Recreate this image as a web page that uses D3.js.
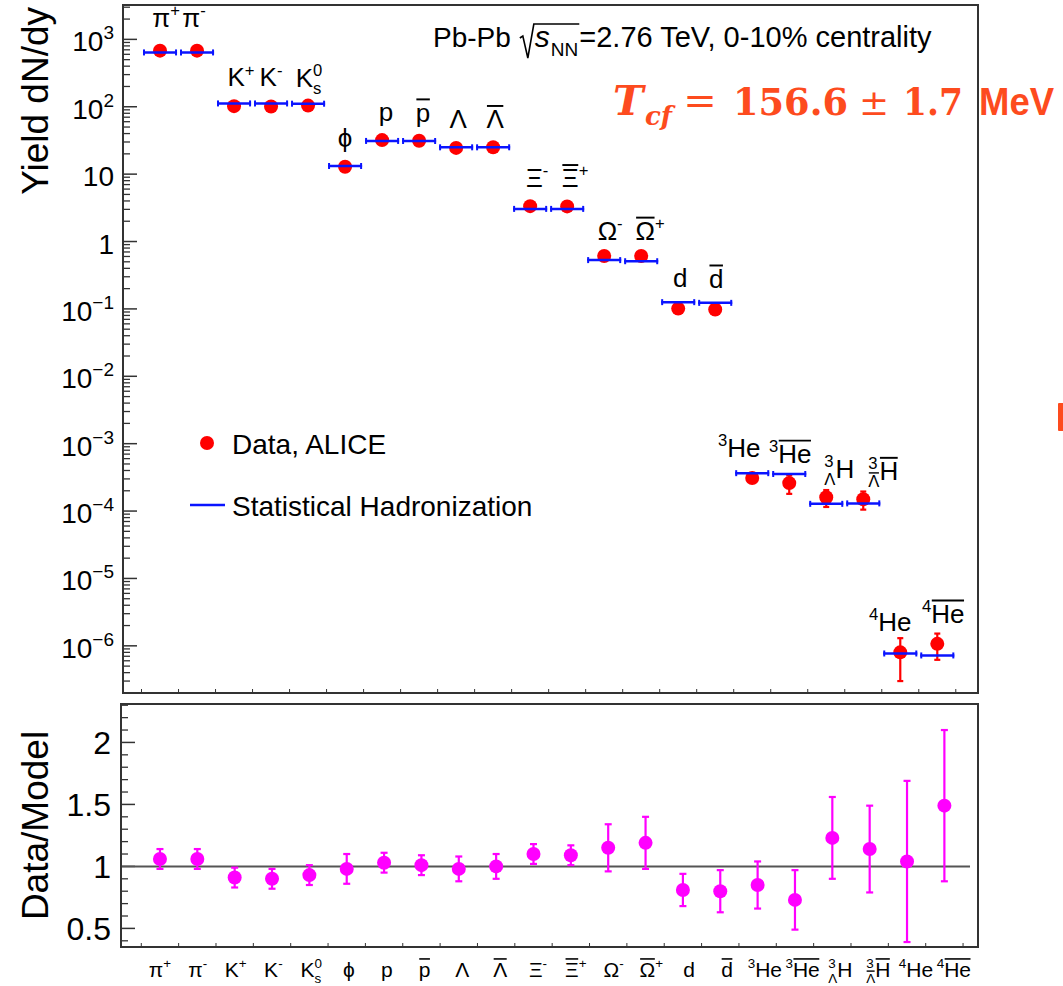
<!DOCTYPE html>
<html>
<head>
<meta charset="utf-8">
<script src="https://cdn.jsdelivr.net/npm/d3@7"></script>
<style>
  body { margin: 0; background: #fff; }
  svg { display: block; }
  text { font-family: "Liberation Sans", Arial, sans-serif; fill: #000; }
</style>
</head>
<body>
<svg id="chart" width="1063" height="986"></svg>
<script>
// particle labels: [text, position ("" | "^" | "_"), flags ("bar", "stack")]
const particleLabels = [
    [["π"], ["+", "^"]],
    [["π"], ["-", "^"]],
    [["K"], ["+", "^"]],
    [["K"], ["-", "^"]],
    [["K"], ["0", "^"], ["s", "_", "stack"]],
    [["ϕ"]],
    [["p"]],
    [["p", "", "bar"]],
    [["Λ"]],
    [["Λ", "", "bar"]],
    [["Ξ"], ["-", "^"]],
    [["Ξ", "", "bar"], ["+", "^"]],
    [["Ω"], ["-", "^"]],
    [["Ω", "", "bar"], ["+", "^"]],
    [["d"]],
    [["d", "", "bar"]],
    [["3", "^"], ["He"]],
    [["3", "^"], ["He", "", "bar"]],
    [["3", "^"], ["Λ", "_", "stack"], ["H"]],
    [["3", "^"], ["Λ", "_", "stack bar"], ["H", "", "bar"]],
    [["4", "^"], ["He"]],
    [["4", "^"], ["He", "", "bar"]]
];

const dataYield = [680, 680, 102, 101, 104, 12.9, 32, 31.3, 24.5, 25, 3.35, 3.32, 0.61, 0.61,
    0.101, 0.098, 3.1e-4, 2.6e-4, 1.6e-4, 1.5e-4, 8.0e-7, 1.07e-6];
const dataErr = [40, 40, 7, 7, 7, 1.4, 2.5, 2.5, 2.5, 2.5, 0.25, 0.25, 0.07, 0.07,
    0.015, 0.015, 0.4e-4, 0.8e-4, 0.45e-4, 0.45e-4, 5.0e-7, 4.5e-7];
const modelYield = [640, 640, 112, 112, 111, 13.2, 31.1, 31, 25, 25, 3.05, 3.05, 0.53, 0.51,
    0.126, 0.123, 3.65e-4, 3.55e-4, 1.28e-4, 1.3e-4, 7.7e-7, 7.2e-7];

const ratio = [1.06, 1.06, 0.91, 0.90, 0.93, 0.98, 1.03, 1.01, 0.98, 1.0, 1.10, 1.09, 1.15, 1.19,
    0.81, 0.80, 0.85, 0.73, 1.23, 1.14, 1.04, 1.49];
const ratioErr = [0.08, 0.08, 0.08, 0.08, 0.08, 0.12, 0.08, 0.08, 0.10, 0.10, 0.08, 0.08, 0.19, 0.21,
    0.13, 0.17, 0.19, 0.24, 0.33, 0.35, 0.65, 0.61];

const topDecades = [-6, -5, -4, -3, -2, -1, 0, 1, 2, 3];
const ratioTicks = [0.5, 1, 1.5, 2];

// hand placement of the labels in the upper pad (pixel nudges, like the original TLatex)
const labelNudge = [[6, -5], [-3, -5], [7, 2], [0, 2], [1, 2], [0, 0], [4, 0], [4, 0], [2, 0], [2, 0],
    [7, 0], [8, 0], [6, 3], [9, 3], [2, 4], [1, 4], [-13, 3], [1, 8], [13, 0], [20, 0], [-10, -2], [6, -2]];

const svg = d3.select("#chart");
const idx = d3.range(particleLabels.length);

const topBox = { left: 123, right: 978, top: 5, bottom: 693 };
const botBox = { left: 121, right: 978, top: 704, bottom: 947 };

const xTop = d3.scaleLinear().domain([-1, 22.1]).range([topBox.left, topBox.right]);
const xBot = d3.scaleLinear().domain([-1.043, 21.9]).range([botBox.left, botBox.right]);
const yTop = d3.scaleLog().domain([Math.pow(10, -6.7), Math.pow(10, 3.51)]).range([topBox.bottom, topBox.top]);
const yBot = d3.scaleLinear().domain([0.35, 2.31]).range([botBox.bottom, botBox.top]);

const frameColor = "#333";

// rich text with sup/sub/overline, centred at cx
function richText(parent, segs, size, cx, baseline) {
    const g = parent.append("g");
    let x = 0, lastStart = 0;
    segs.forEach(([t, pos = "", flags = ""]) => {
        const fs = pos ? size * 0.64 : size;
        const dy = pos === "^" ? -size * 0.42 : pos === "_" ? size * 0.27 : 0;
        const stack = flags.includes("stack");
        const x0 = stack ? lastStart : x;
        const node = g.append("text").attr("x", x0).attr("y", dy).attr("font-size", fs).text(t);
        const w = node.node().getComputedTextLength();
        if (flags.includes("bar")) {
            const yb = dy - fs * 0.86;
            g.append("line")
                .attr("x1", x0 + 0.5).attr("x2", x0 + w - 0.5)
                .attr("y1", yb).attr("y2", yb)
                .attr("stroke", "#000").attr("stroke-width", Math.max(1.4, fs * 0.075));
        }
        if (!stack) lastStart = x0;
        x = Math.max(x, x0 + w);
    });
    g.attr("transform", `translate(${cx - x / 2},${baseline})`);
    return g;
}

// ---------------- top panel ----------------
const topG = svg.append("g");

// minor ticks
const minorTop = [];
for (let k = -7; k <= 3; k++) {
    for (let m = 2; m <= 9; m++) {
        const v = m * Math.pow(10, k);
        if (v > yTop.domain()[0] && v < yTop.domain()[1]) minorTop.push(v);
    }
}
topG.selectAll("line.minor").data(minorTop).enter().append("line")
    .attr("x1", topBox.left).attr("x2", topBox.left + 7)
    .attr("y1", (d) => yTop(d)).attr("y2", (d) => yTop(d))
    .attr("stroke", frameColor).attr("stroke-width", 1.3);
topG.selectAll("line.major").data(topDecades).enter().append("line")
    .attr("x1", topBox.left).attr("x2", topBox.left + 14)
    .attr("y1", (d) => yTop(Math.pow(10, d))).attr("y2", (d) => yTop(Math.pow(10, d)))
    .attr("stroke", frameColor).attr("stroke-width", 1.5);

// tick labels
topDecades.forEach((k) => {
    const ty = yTop(Math.pow(10, k));
    const rightX = 114;
    if (k === 0 || k === 1) {
        topG.append("text").attr("x", rightX).attr("y", ty + 12)
            .attr("text-anchor", "end").attr("font-size", 28).text(k === 0 ? "1" : "10");
    } else {
        const exp = topG.append("text").attr("y", ty).attr("font-size", 19)
            .text(k < 0 ? "\u2212" + (-k) : String(k));
        const w = exp.node().getComputedTextLength();
        exp.attr("x", rightX - w);
        topG.append("text").attr("x", rightX - w).attr("y", ty + 12)
            .attr("text-anchor", "end").attr("font-size", 28).text("10");
    }
});

// bin edge ticks on bottom edge
topG.selectAll("line.xt").data(d3.range(-0.5, 22, 1)).enter().append("line")
    .attr("x1", (d) => xTop(d)).attr("x2", (d) => xTop(d))
    .attr("y1", topBox.bottom).attr("y2", topBox.bottom - 4)
    .attr("stroke", frameColor).attr("stroke-width", 1);

// data error bars
const red = "#ff0000";
topG.selectAll("line.err").data(idx).enter().append("line")
    .attr("x1", (i) => xTop(i)).attr("x2", (i) => xTop(i))
    .attr("y1", (i) => yTop(dataYield[i] + dataErr[i]))
    .attr("y2", (i) => yTop(Math.max(dataYield[i] - dataErr[i], 1e-9)))
    .attr("stroke", red).attr("stroke-width", 2.2);
[1, -1].forEach((s) => {
    topG.selectAll("line.cap" + (s > 0 ? "u" : "d")).data(idx).enter().append("line")
        .attr("x1", (i) => xTop(i) - 3).attr("x2", (i) => xTop(i) + 3)
        .attr("y1", (i) => yTop(dataYield[i] + s * dataErr[i]))
        .attr("y2", (i) => yTop(dataYield[i] + s * dataErr[i]))
        .attr("stroke", red).attr("stroke-width", 2.2);
});
topG.selectAll("circle.data").data(idx).enter().append("circle")
    .attr("cx", (i) => xTop(i)).attr("cy", (i) => yTop(dataYield[i]))
    .attr("r", 7).attr("fill", red);

// model lines
const blue = "#0a14ff";
const halfBin = 0.46;
topG.selectAll("line.model").data(idx).enter().append("line")
    .attr("x1", (i) => xTop(i - halfBin)).attr("x2", (i) => xTop(i + halfBin))
    .attr("y1", (i) => yTop(modelYield[i])).attr("y2", (i) => yTop(modelYield[i]))
    .attr("stroke", blue).attr("stroke-width", 2.5);
[-halfBin, halfBin].forEach((o) => {
    topG.selectAll("line.mcap" + (o < 0 ? "l" : "r")).data(idx).enter().append("line")
        .attr("x1", (i) => xTop(i + o) + (o < 0 ? 1 : -1)).attr("x2", (i) => xTop(i + o) + (o < 0 ? 1 : -1))
        .attr("y1", (i) => yTop(modelYield[i]) - 3).attr("y2", (i) => yTop(modelYield[i]) + 3)
        .attr("stroke", blue).attr("stroke-width", 2);
});

// particle labels above points
idx.forEach((i) => {
    const yy = yTop(Math.max(dataYield[i], modelYield[i])) - 19 + labelNudge[i][1];
    richText(topG, particleLabels[i], 26, xTop(i) + labelNudge[i][0], yy);
});

// frame
topG.append("rect")
    .attr("x", topBox.left).attr("y", topBox.top)
    .attr("width", topBox.right - topBox.left).attr("height", topBox.bottom - topBox.top)
    .attr("fill", "none").attr("stroke", frameColor).attr("stroke-width", 2);

// y title
topG.append("text")
    .attr("transform", `translate(48,${topBox.top + 2}) rotate(-90)`)
    .attr("text-anchor", "end").attr("font-size", 37).text("Yield dN/dy");

// header: Pb-Pb sqrt(s_NN)=2.76 TeV, 0-10% centrality
(function header() {
    const hx = 433, hy = 47;
    const t1 = topG.append("text").attr("x", hx).attr("y", hy).attr("font-size", 28).text("Pb-Pb");
    const rx = hx + t1.node().getComputedTextLength() + 9;
    let x = rx + 15;
    const s = topG.append("text").attr("x", x).attr("y", hy).attr("font-size", 30)
        .attr("font-style", "italic").text("s");
    x += s.node().getComputedTextLength() + 1;
    const nn = topG.append("text").attr("x", x).attr("y", hy + 9).attr("font-size", 19).text("NN");
    x += nn.node().getComputedTextLength() + 1;
    topG.append("path")
        .attr("d", `M${rx},${hy - 9} L${rx + 3},${hy - 11} L${rx + 8},${hy + 11} L${rx + 14},${hy - 23} H${x}`)
        .attr("fill", "none").attr("stroke", "#000").attr("stroke-width", 1.6);
    topG.append("text").attr("x", x).attr("y", hy).attr("font-size", 29).text("=2.76 TeV, 0-10% centrality");
})();

// legend
const legend = svg.append("g");
legend.append("circle").attr("cx", 207).attr("cy", 443).attr("r", 7).attr("fill", red);
legend.append("text").attr("x", 232).attr("y", 454).attr("font-size", 28).text("Data, ALICE");
legend.append("line").attr("x1", 190).attr("x2", 225).attr("y1", 505).attr("y2", 505)
    .attr("stroke", blue).attr("stroke-width", 2.5);
legend.append("text").attr("x", 232).attr("y", 516).attr("font-size", 28).text("Statistical Hadronization");

// ---------------- bottom panel ----------------
const botG = svg.append("g");
const magenta = "#ff00ff";

const minorBot = d3.range(0.4, 2.31, 0.1).filter((v) => Math.abs(v * 2 - Math.round(v * 2)) > 0.01);
botG.selectAll("line.minor").data(minorBot).enter().append("line")
    .attr("x1", botBox.left).attr("x2", botBox.left + 7)
    .attr("y1", (d) => yBot(d)).attr("y2", (d) => yBot(d))
    .attr("stroke", frameColor).attr("stroke-width", 1.3);
botG.selectAll("line.major").data(ratioTicks).enter().append("line")
    .attr("x1", botBox.left).attr("x2", botBox.left + 14)
    .attr("y1", (d) => yBot(d)).attr("y2", (d) => yBot(d))
    .attr("stroke", frameColor).attr("stroke-width", 1.5);
botG.selectAll("text.tick").data(ratioTicks).enter().append("text")
    .attr("x", 111).attr("y", (d) => yBot(d) + 12)
    .attr("text-anchor", "end").attr("font-size", 32).text((d) => String(d));

botG.selectAll("line.xt").data(d3.range(-0.5, 22, 1)).enter().append("line")
    .attr("x1", (d) => xBot(d)).attr("x2", (d) => xBot(d))
    .attr("y1", botBox.bottom).attr("y2", botBox.bottom - 4)
    .attr("stroke", frameColor).attr("stroke-width", 1);

// unity line
botG.append("line")
    .attr("x1", botBox.left).attr("x2", 970)
    .attr("y1", yBot(1)).attr("y2", yBot(1))
    .attr("stroke", "#555").attr("stroke-width", 2);

botG.selectAll("line.err").data(idx).enter().append("line")
    .attr("x1", (i) => xBot(i)).attr("x2", (i) => xBot(i))
    .attr("y1", (i) => yBot(ratio[i] + ratioErr[i])).attr("y2", (i) => yBot(ratio[i] - ratioErr[i]))
    .attr("stroke", magenta).attr("stroke-width", 2.2);
[1, -1].forEach((s) => {
    botG.selectAll("line.cap" + (s > 0 ? "u" : "d")).data(idx).enter().append("line")
        .attr("x1", (i) => xBot(i) - 3.5).attr("x2", (i) => xBot(i) + 3.5)
        .attr("y1", (i) => yBot(ratio[i] + s * ratioErr[i])).attr("y2", (i) => yBot(ratio[i] + s * ratioErr[i]))
        .attr("stroke", magenta).attr("stroke-width", 2.2);
});
botG.selectAll("circle.ratio").data(idx).enter().append("circle")
    .attr("cx", (i) => xBot(i)).attr("cy", (i) => yBot(ratio[i]))
    .attr("r", 7).attr("fill", magenta);

botG.append("rect")
    .attr("x", botBox.left).attr("y", botBox.top)
    .attr("width", botBox.right - botBox.left).attr("height", botBox.bottom - botBox.top)
    .attr("fill", "none").attr("stroke", frameColor).attr("stroke-width", 2);

idx.forEach((i) => richText(botG, particleLabels[i], 21, xBot(i) + i * 0.45, 977));

botG.append("text")
    .attr("transform", `translate(48,${(botBox.top + botBox.bottom) / 2}) rotate(-90)`)
    .attr("text-anchor", "middle").attr("font-size", 37).text("Data/Model");

// ---------------- T_cf annotation ----------------
const tcfColor = "#fd4b1e";
const ann = svg.append("g");
function annText(x, y, size, family, weight, italic, txt) {
    return ann.append("text").attr("x", x).attr("y", y).attr("font-size", size)
        .style("font-family", family).style("font-weight", weight)
        .style("font-style", italic ? "italic" : "normal").style("fill", tcfColor).text(txt);
}
annText(613, 115, 41, "DejaVu Serif", "bold", true, "T");
annText(645, 125, 26, "DejaVu Serif", "bold", true, "cf");
annText(700, 114, 40, "DejaVu Serif", "normal", false, "=").attr("text-anchor", "middle");
annText(733, 115, 38, "DejaVu Serif", "bold", false, "156.6")
    .attr("textLength", 115).attr("lengthAdjust", "spacingAndGlyphs");
annText(874, 115, 36, "DejaVu Serif", "normal", false, "±").attr("text-anchor", "middle");
annText(903, 115, 38, "DejaVu Serif", "bold", false, "1.7")
    .attr("textLength", 60).attr("lengthAdjust", "spacingAndGlyphs");
annText(979, 115, 38, "Liberation Sans", "bold", false, "MeV")
    .attr("textLength", 75).attr("lengthAdjust", "spacingAndGlyphs");
// fragment of a letter cut by the right edge of the picture
ann.append("rect").attr("x", 1058).attr("y", 403).attr("width", 6).attr("height", 28)
    .attr("rx", 1).attr("fill", tcfColor);
</script>
</body>
</html>
